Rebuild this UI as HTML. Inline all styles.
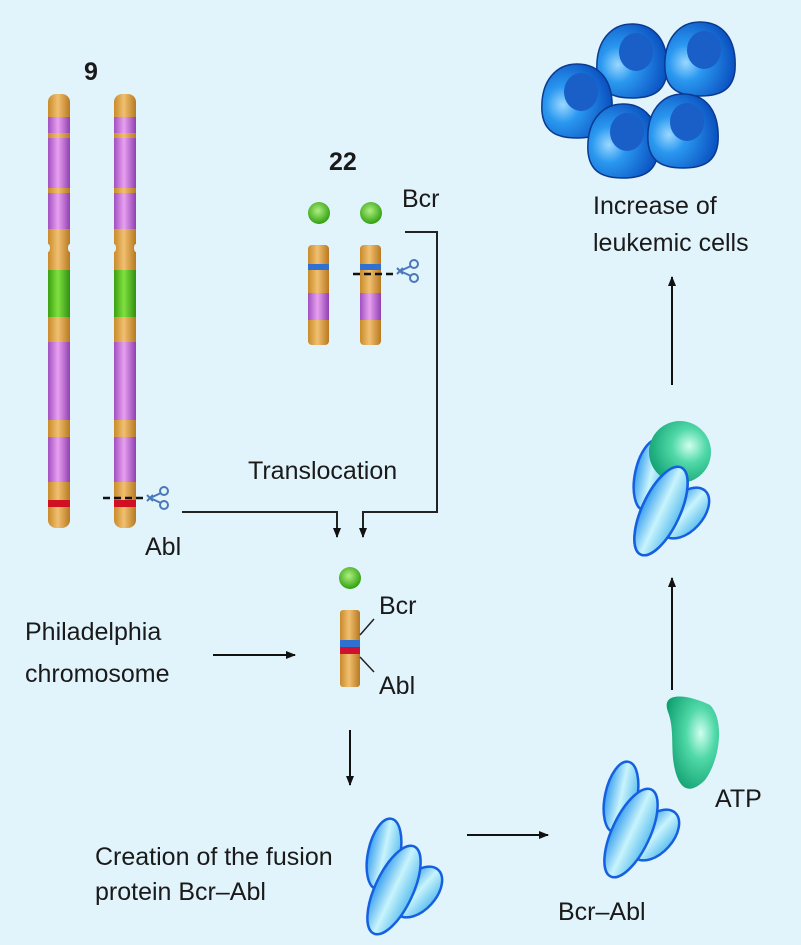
<!DOCTYPE html>
<html><head><meta charset="utf-8"><style>
html,body{margin:0;padding:0;background:#e1f3fb;}
svg{display:block}
text{font-family:"Liberation Sans",sans-serif;font-size:25px;fill:#1a1a1a}
</style></head><body>
<svg width="801" height="945" viewBox="0 0 801 945" xmlns="http://www.w3.org/2000/svg">
<defs>
<linearGradient id="org" x1="0" x2="1"><stop offset="0" stop-color="#c98a2a"/><stop offset="0.45" stop-color="#f0c070"/><stop offset="1" stop-color="#b87820"/></linearGradient>
<linearGradient id="pur" x1="0" x2="1"><stop offset="0" stop-color="#a050c0"/><stop offset="0.45" stop-color="#e8a0f0"/><stop offset="1" stop-color="#9040b0"/></linearGradient>
<linearGradient id="grn" x1="0" x2="1"><stop offset="0" stop-color="#3aa010"/><stop offset="0.45" stop-color="#80e040"/><stop offset="1" stop-color="#309010"/></linearGradient>
<radialGradient id="ball" cx="0.45" cy="0.4" r="0.6"><stop offset="0" stop-color="#b0f080"/><stop offset="1" stop-color="#30a010"/></radialGradient>
<linearGradient id="protGrad" x1="0" x2="1"><stop offset="0" stop-color="#3aa0f0"/><stop offset="0.5" stop-color="#c8f4fc"/><stop offset="1" stop-color="#60c0f0"/></linearGradient>
<radialGradient id="atp" cx="0.65" cy="0.4" r="0.7"><stop offset="0" stop-color="#d0fff0"/><stop offset="0.4" stop-color="#50d8a8"/><stop offset="1" stop-color="#10a070"/></radialGradient>
<radialGradient id="cell" cx="0.3" cy="0.55" r="0.7"><stop offset="0" stop-color="#9ad8ff"/><stop offset="0.35" stop-color="#2a98f0"/><stop offset="1" stop-color="#0a50c0"/></radialGradient>
<marker id="ah" markerWidth="10" markerHeight="10" refX="9" refY="5" orient="auto" markerUnits="userSpaceOnUse"><path d="M0,1 L10,5 L0,9 Z" fill="#111"/></marker>
<g id="chr9">
<rect x="0" y="0" width="22" height="434" rx="8" fill="url(#org)"/>
<rect x="0" y="23" width="22" height="16" fill="url(#pur)"/>
<rect x="0" y="44" width="22" height="50" fill="url(#pur)"/>
<rect x="0" y="99" width="22" height="36" fill="url(#pur)"/>
<ellipse cx="0" cy="154" rx="2" ry="4" fill="#e1f3fb"/>
<ellipse cx="22" cy="154" rx="2" ry="4" fill="#e1f3fb"/>
<rect x="0" y="176" width="22" height="47" fill="url(#grn)"/>
<rect x="0" y="248" width="22" height="78" fill="url(#pur)"/>
<rect x="0" y="343" width="22" height="45" fill="url(#pur)"/>
<rect x="0" y="406" width="22" height="7" fill="#d01020"/>
</g>
<g id="chr22">
<circle cx="11" cy="-32" r="11" fill="url(#ball)"/>
<rect x="0" y="0" width="21" height="100" rx="4" fill="url(#org)"/>
<rect x="0" y="19" width="21" height="6" fill="#3070d0"/>
<rect x="0" y="48" width="21" height="27" fill="url(#pur)"/>
</g>
<g id="protShape" stroke="#1560e0" stroke-width="2.5" fill="url(#protGrad)">
<ellipse cx="24" cy="40" rx="16" ry="36" transform="rotate(12 24 40)"/>
<ellipse cx="58" cy="78" rx="18" ry="30" transform="rotate(42 58 78)"/>
<ellipse cx="34" cy="76" rx="19" ry="48" transform="rotate(25 34 76)"/>
</g>
<g id="cellg">
<path d="M-35,10 C-37,-22 -20,-38 0,-38 C22,-38 37,-22 35,10 C33,30 20,36 0,36 C-20,36 -33,30 -35,10 Z" fill="url(#cell)" stroke="#0a3a90" stroke-width="1.5"/>
<ellipse cx="4" cy="-10" rx="17" ry="19" fill="#1a5ec8"/>
</g>
<g id="sc" stroke="#4a78b8" stroke-width="2" fill="none"><circle cx="14" cy="-7" r="4"/><circle cx="14" cy="7" r="4"/><path d="M0,0 L11,-5 M0,0 L11,5 M-3,-3 L3,3 M-3,3 L3,-3"/></g>
</defs>

<text x="84" y="80" font-weight="bold">9</text>
<use href="#chr9" x="48" y="94"/>
<use href="#chr9" x="114" y="94"/>
<path d="M103,498 H146" stroke="#111" stroke-width="2.5" stroke-dasharray="7,4"/>
<use href="#sc" x="150" y="498"/>

<text x="329" y="170" font-weight="bold">22</text>
<use href="#chr22" x="308" y="245"/>
<use href="#chr22" x="360" y="245"/>
<path d="M353,274 H396" stroke="#111" stroke-width="2.5" stroke-dasharray="7,4"/>
<use href="#sc" x="400" y="271"/>
<text x="402" y="207">Bcr</text>

<path d="M405,232 H437 V512 H363 V537" stroke="#222" stroke-width="2" fill="none" marker-end="url(#ah)"/>
<path d="M182,512 H337 V537" stroke="#222" stroke-width="2" fill="none" marker-end="url(#ah)"/>
<text x="248" y="479">Translocation</text>
<text x="145" y="555">Abl</text>

<circle cx="350" cy="578" r="11" fill="url(#ball)"/>
<rect x="340" y="610" width="20" height="77" rx="3" fill="url(#org)"/>
<rect x="340" y="640" width="20" height="7" fill="#3070d0"/>
<rect x="340" y="647" width="20" height="7" fill="#d01030"/>
<path d="M360,635 L374,619 M360,657 L374,672" stroke="#222" stroke-width="1.5"/>
<text x="379" y="614">Bcr</text>
<text x="379" y="694">Abl</text>
<text x="25" y="640">Philadelphia</text>
<text x="25" y="682">chromosome</text>
<path d="M213,655 H295" stroke="#111" stroke-width="2" marker-end="url(#ah)"/>
<path d="M350,730 V785" stroke="#111" stroke-width="2" marker-end="url(#ah)"/>

<text x="95" y="865">Creation of the fusion</text>
<text x="95" y="900">protein Bcr–Abl</text>
<use href="#protShape" x="360" y="814"/>
<path d="M467,835 H548" stroke="#111" stroke-width="2" marker-end="url(#ah)"/>
<use href="#protShape" x="597" y="757"/>
<path d="M668,712 C660,690 690,695 710,705 C725,720 720,760 705,780 C690,795 680,790 675,770 C670,750 675,730 668,712 Z" fill="url(#atp)"/>
<text x="715" y="807">ATP</text>
<text x="558" y="920">Bcr–Abl</text>

<path d="M672,690 V578" stroke="#111" stroke-width="2" marker-end="url(#ah)"/>
<use href="#protShape" x="627" y="435"/>
<circle cx="680" cy="452" r="31" fill="url(#atp)"/>
<g stroke="#1560e0" stroke-width="2.5" fill="url(#protGrad)"><ellipse cx="661" cy="511" rx="19" ry="48" transform="rotate(25 661 511)"/></g>
<path d="M672,385 V277" stroke="#111" stroke-width="2" marker-end="url(#ah)"/>
<text x="593" y="214">Increase of</text>
<text x="593" y="251">leukemic cells</text>

<use href="#cellg" x="632" y="62"/>
<use href="#cellg" x="700" y="60"/>
<use href="#cellg" x="577" y="102"/>
<use href="#cellg" x="623" y="142"/>
<use href="#cellg" x="683" y="132"/>
</svg>
</body></html>
